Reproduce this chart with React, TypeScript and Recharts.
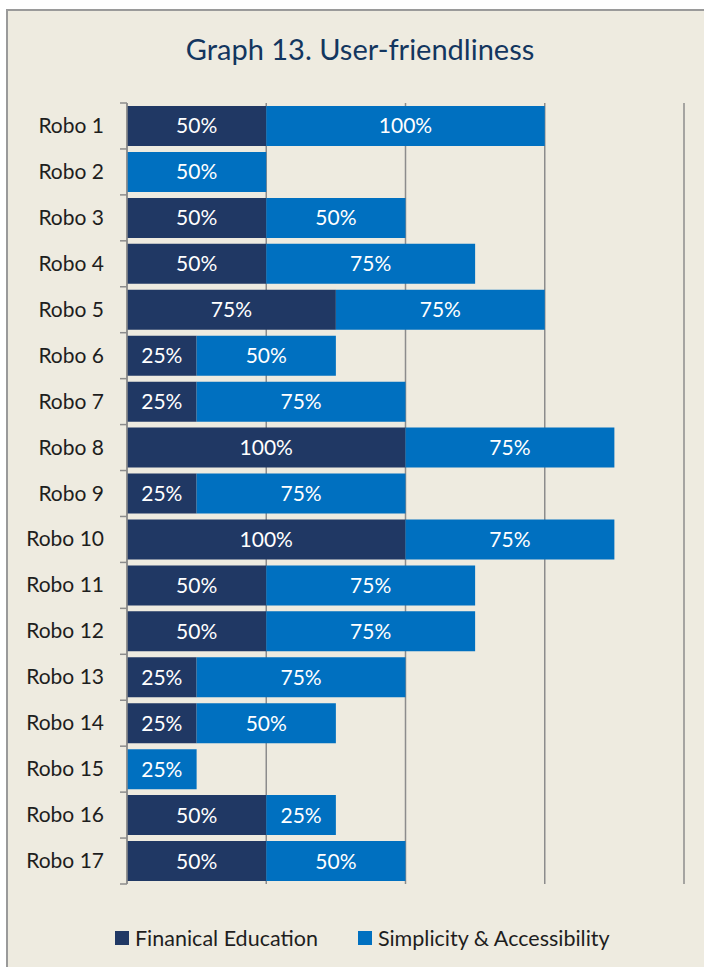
import React from 'react';
import { BarChart, Bar, XAxis, YAxis, CartesianGrid, LabelList, Legend } from 'recharts';

const categories = ['Robo 1','Robo 2','Robo 3','Robo 4','Robo 5','Robo 6','Robo 7','Robo 8','Robo 9','Robo 10','Robo 11','Robo 12','Robo 13','Robo 14','Robo 15','Robo 16','Robo 17'];
const financialEducation = [50, null, 50, 50, 75, 25, 25, 100, 25, 100, 50, 50, 25, 25, null, 50, 50];
const simplicityAccessibility = [100, 50, 50, 75, 75, 50, 75, 75, 75, 75, 75, 75, 75, 50, 25, 25, 50];
const xTicks = [0, 50, 100, 150, 200];
const seriesNames = ['Finanical Education', 'Simplicity & Accessibility'];

const data = categories.map((name, i) => ({ name, fin: financialEducation[i], simp: simplicityAccessibility[i] }));

const DARK = '#203864';
const LIGHT = '#0070C0';
const FONT = 'Lato, "Open Sans", sans-serif';
const PLOT_TOP = 103;
const PLOT_BOTTOM = 884;
const BAND = (PLOT_BOTTOM - PLOT_TOP) / categories.length;

function CatTick(props: any) {
  const { x, y, payload, index } = props;
  return (
    <g>
      <text x={x - 23} y={y} dy={7} textAnchor="end" fill="#1e1e1e" fontSize={21} fontFamily={FONT}>{payload.value}</text>
      <line x1={x - 7} x2={x} y1={y - BAND / 2} y2={y - BAND / 2} stroke="#8c8c8c" strokeWidth={1.5} />
      {index === categories.length - 1 && (
        <line x1={x - 7} x2={x} y1={y + BAND / 2} y2={y + BAND / 2} stroke="#8c8c8c" strokeWidth={1.5} />
      )}
    </g>
  );
}

function EmptyTick() {
  return <g />;
}

function LegendContent() {
  const items = [
    { label: seriesNames[0], color: DARK },
    { label: seriesNames[1], color: LIGHT },
  ];
  return (
    <div style={{ display: 'flex', alignItems: 'center', height: 24, paddingLeft: 115, fontFamily: FONT, fontSize: 21.5, color: '#1e1e1e' }}>
      {items.map((it, i) => (
        <div key={it.label} style={{ display: 'flex', alignItems: 'center', marginLeft: i === 0 ? 0 : 40 }}>
          <span style={{ display: 'inline-block', width: 14, height: 14, background: it.color, marginRight: 6 }} />
          <span>{it.label}</span>
        </div>
      ))}
    </div>
  );
}

const fmt = (v: any) => (v ? `${v}%` : '');

export default function App() {
  return (
    <div style={{ position: 'absolute', left: 0, top: 0, width: 704, height: 967, background: '#ffffff', overflow: 'hidden' }}>
      <div style={{ position: 'absolute', left: 6, top: 9, width: 760, height: 1000, background: '#EEEBE0', borderLeft: '2px solid #9a9a9a', borderTop: '2px solid #9a9a9a' }} />
      <div style={{ position: 'absolute', left: 0, top: 31, width: 720, textAlign: 'center', fontFamily: FONT, fontSize: 29, color: '#13365F' }}>
        Graph 13. User-friendliness
      </div>
      <div style={{ position: 'absolute', left: 0, top: 0 }}>
        <BarChart width={704} height={967} data={data} layout="vertical" margin={{ top: PLOT_TOP, right: 20, left: 0, bottom: 17 }}>
          <CartesianGrid horizontal={false} vertical={true} stroke="#8c8c8c" strokeWidth={1.5} />
          <XAxis type="number" domain={[0, 200]} ticks={xTicks} tick={<EmptyTick />} axisLine={false} tickLine={false} height={42} />
          <YAxis type="category" dataKey="name" width={127} tickSize={0} tickMargin={0} tickLine={false} axisLine={{ stroke: '#8c8c8c', strokeWidth: 1.5 }} tick={<CatTick />} interval={0} />
          <Legend verticalAlign="bottom" content={<LegendContent />} />
          <Bar dataKey="fin" name={seriesNames[0]} stackId="a" fill={DARK} barSize={40} isAnimationActive={false}>
            <LabelList dataKey="fin" position="center" formatter={fmt} fill="#ffffff" fontSize={21} fontFamily={FONT} />
          </Bar>
          <Bar dataKey="simp" name={seriesNames[1]} stackId="a" fill={LIGHT} barSize={40} isAnimationActive={false}>
            <LabelList dataKey="simp" position="center" formatter={fmt} fill="#ffffff" fontSize={21} fontFamily={FONT} />
          </Bar>
        </BarChart>
      </div>
    </div>
  );
}
